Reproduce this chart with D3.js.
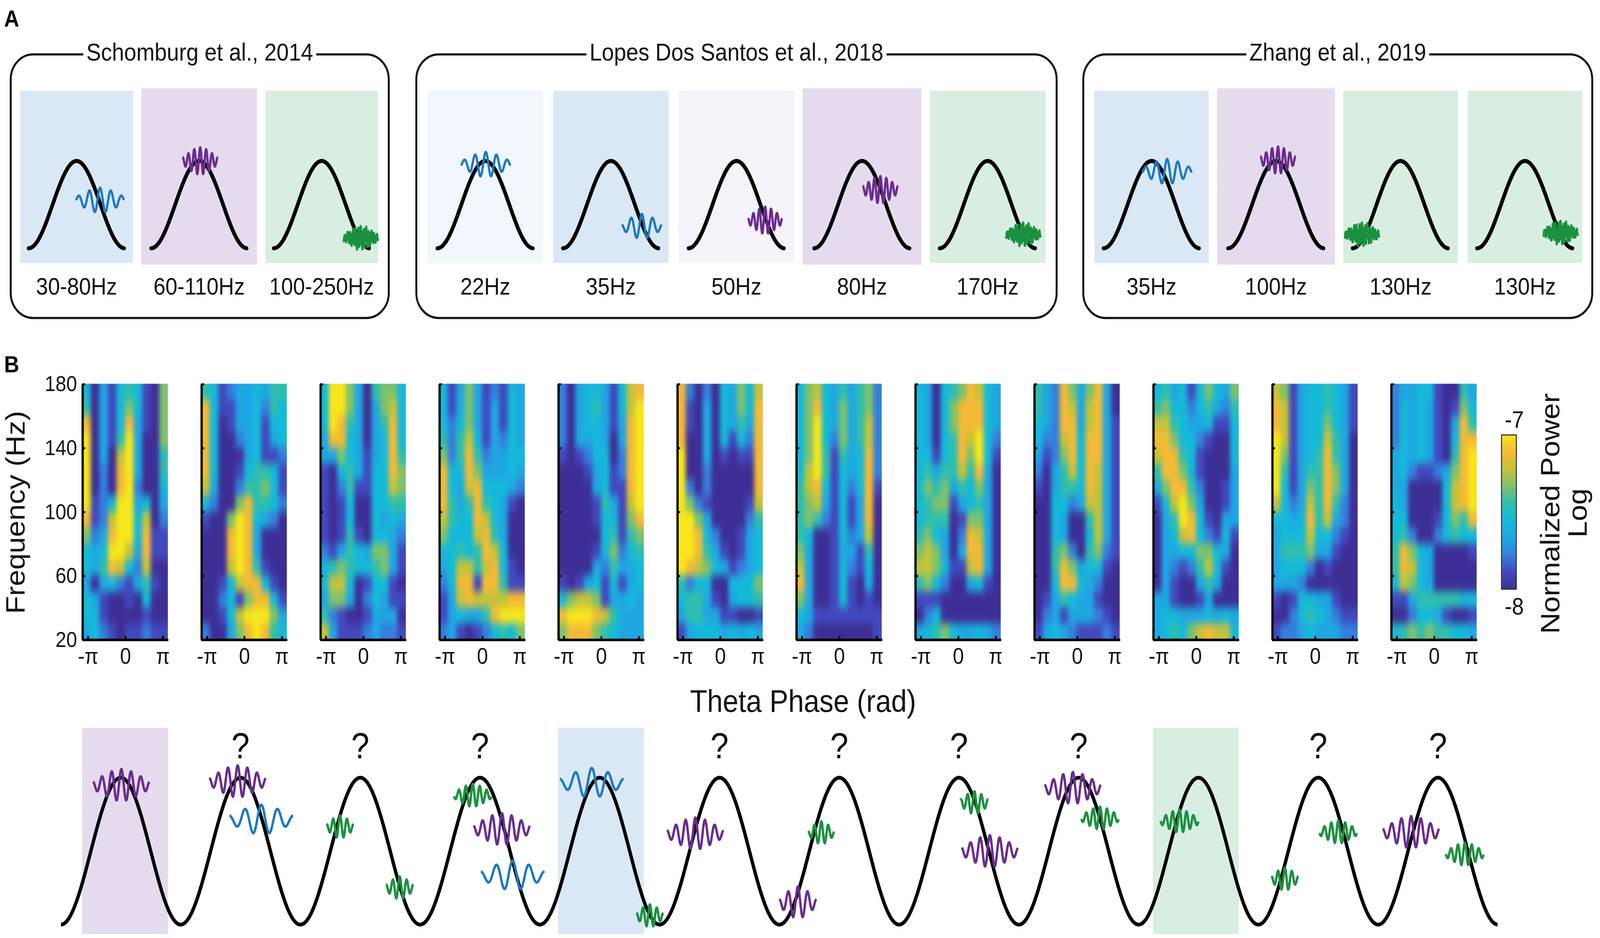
<!DOCTYPE html>
<html>
<head>
<meta charset="utf-8">
<script src="https://cdn.jsdelivr.net/npm/d3@7"></script>
<style>
  html, body { margin: 0; padding: 0; background: #fff; overflow: hidden; }
  svg { display: block; width: 100vw; height: 100vh; }
</style>
</head>
<body>
<div id="app"></div>
<script>
// ------------------------------------------------------------
// Data
// ------------------------------------------------------------

// Panel A: studies, their gamma bands and preferred theta phase
const studyTitles = ['Schomburg et al., 2014', 'Lopes Dos Santos et al., 2018', 'Zhang et al., 2019'];
const studyBandLabels = [
  ['30-80Hz', '60-110Hz', '100-250Hz'],
  ['22Hz', '35Hz', '50Hz', '80Hz', '170Hz'],
  ['35Hz', '100Hz', '130Hz', '130Hz']
];
const studyBandTints = [
  ['blue', 'purple', 'green'],
  ['paleBlue', 'blue', 'palePurple', 'purple', 'green'],
  ['blue', 'purple', 'green', 'green']
];
// [burst type, theta phase (rad, 0 = peak), height on the cycle (0 trough .. 1 peak), gamma cycles]
const studyBursts = [
  [['blue', 1.54, 0.55, 4.5], ['purple', 0.07, 1.0, 6], ['green', 2.57, 0.12, 13]],
  [['blue', 0.03, 0.96, 4.6], ['blue', 2.03, 0.25, 3.7], ['purple', 1.88, 0.32, 5.7], ['purple', 1.2, 0.67, 6], ['green', 2.34, 0.16, 13]],
  [['blue', 1.02, 0.88, 4.6], ['purple', 0.13, 1.01, 6], ['green', -2.52, 0.16, 13], ['green', 2.34, 0.18, 13]]
];

// Panel B: phase-frequency power maps, rows 180 Hz -> 20 Hz, columns -pi -> pi, levels 0 (-8) .. 9 (-7)
const powerMaps = [
  ['4031454106','5031464106','8031483106','9031593006','9030793005','9020893005','9020892004','9124993403',
   '8127994702','6238994811','4349973811','4358742700','3034213510','4310010400','4410000100','3421011211'],
  ['5412334355','8411334254','8401334144','8400234134','8400034112','8400145541','7300255641','4200685542',
   '1006984320','0008983000','0008983000','0007985100','0014788410','0024168841','0014799963','2003689854'],
  ['4996305664','4996303674','4985303584','3884303484','3364313485','1045314486','1025114476','1014004455',
   '1014004343','1015104432','2135436631','4565445631','4774014410','3663024311','5210013330','7311123221'],
  ['4136312143','4136313143','4246313143','5257413243','6258523344','8448633343','8437844432','8535854310',
   '7544874300','6444785300','4454587400','3477578410','2488188511','1378777788','1343358999','2310124546'],
  ['2034431478','2034531479','2034431389','2033430389','1012440289','0001341289','0000341189','0000153179',
   '0000144168','0000045156','0000146245','0000325334','1013414134','4677613343','8999875333','6888654333'],
  ['8202043647','8103043648','8103043538','8003041428','9003010118','9002000008','9202000008','9621000017',
   '9963000025','9984200134','9985310134','9876431234','5244004446','4553103445','3553311001','1344434343'],
  ['4674353562','4684363562','4694363572','4694263572','4695153482','4795143482','5784142481','5673141380',
   '5652141380','5400142370','6300133150','7300142140','8300141030','6300141010','4311111111','3200000001'],
  ['4304568743','4304688843','4304688843','4304587942','4414586941','4535575830','4656354630','4566134530',
   '4555016630','5643028730','6763038830','7764117830','5642003410','1110000000','0240000000','3456433432'],
  ['5328636830','5328737830','4328837831','4227848831','3126848831','2035748731','1035548731','0044237731',
   '0043005731','0043004731','0056205621','0058634410','0048843200','0135433100','0231333210','1343211121'],
  ['4534146436','5644245325','7754334114','8864421004','7885410004','5886410003','3688520013','1479630013',
   '0359841033','0347842141','0334466430','0321257410','0310035300','3310013000','3443334343','3454678774'],
  ['7613445431','8713445431','8713446431','9713447530','9613458530','9513558630','9413658630','7423758520',
   '4434857320','3444744210','3555633100','3444201000','3332000000','1014433100','0024543211','1223433322'],
  ['2334410053','2434310164','2434310385','2434310488','3434310589','3421123689','3300004789','4300004789',
   '4400014658','4520024544','5864300001','5874300000','4764300000','1135555544','0024431001','4565655443']
];
const freqTicks = [20, 60, 100, 140, 180];
const phaseTicks = [-Math.PI, 0, Math.PI];
const phaseTickLabels = ['-π', '0', 'π'];
const powerRange = [-8, -7];

// Bottom schematic: [theta cycle, burst type, phase from peak (rad), height (-1 trough .. 1 peak), gamma cycles]
const thetaBursts = [
  [0, 'purple', 0.03, 0.90, 5.8],
  [1, 'purple', -0.15, 0.95, 5.8],
  [1, 'blue', 1.09, 0.43, 3.9],
  [2, 'green', -1.06, 0.33, 3.9],
  [2, 'green', 2.07, -0.50, 4.0],
  [3, 'green', -0.38, 0.76, 5.4],
  [3, 'purple', 1.15, 0.30, 5.8],
  [3, 'blue', 1.71, -0.33, 3.9],
  [4, 'blue', -0.42, 0.93, 3.9],
  [4, 'green', 2.63, -0.88, 3.9],
  [5, 'purple', -1.27, 0.24, 5.8],
  [6, 'purple', -2.17, -0.70, 3.8],
  [6, 'green', -0.94, 0.25, 3.7],
  [7, 'green', 0.81, 0.66, 4.1],
  [7, 'purple', 1.62, 0.00, 5.8],
  [8, 'purple', -0.31, 0.86, 5.8],
  [8, 'green', 1.12, 0.45, 5.4],
  [9, 'green', -0.99, 0.41, 5.5],
  [10, 'green', -1.75, -0.38, 3.9],
  [10, 'green', 1.05, 0.26, 5.4],
  [11, 'purple', -1.41, 0.26, 5.8],
  [11, 'green', 1.41, -0.04, 5.5]
];
const highlightedCycles = [[0, 'purple'], [4, 'blue'], [9, 'green']];
const questionCycles = [1, 2, 3, 5, 6, 7, 8, 10, 11];
const thetaCycleCount = 12;

// ------------------------------------------------------------
// Styles
// ------------------------------------------------------------
const FONT = '"Liberation Sans", Arial, Helvetica, sans-serif';
const tint = { blue: '#d9e8f4', purple: '#e6dbee', green: '#d8eee0', paleBlue: '#f0f6fb', palePurple: '#f5f2f9' };
const burstColor = { blue: '#1f78c1', purple: '#6a2c8e', green: '#1b9140' };
// gamma period (px) and amplitude for the small (A) and large (B) glyphs
const burstA = { blue: [10.5, 11, false], purple: [5.8, 12, false], green: [2.6, 11, true] };
const burstB = { blue: [16, 13, false], purple: [9.5, 14, false], green: [6.8, 10, false] };
const parula = ['#3e2f96', '#4149bd', '#357fdc', '#1fa7e2', '#15b9d8', '#2fbeae', '#7dc26c', '#c4c33a', '#f4ba35', '#f7e61b'];
const powerColor = d3.scaleLinear().domain(d3.range(parula.length)).range(parula);

// ------------------------------------------------------------
// Canvas: drawn in 1568 x 827 units, stretched over the whole window
// ------------------------------------------------------------
const W = 1568, H = 2401 * 1568 / 4550;
const svg = d3.select('#app').append('svg')
  .attr('viewBox', [0, 0, W, H])
  .attr('preserveAspectRatio', 'none')
  .attr('font-family', FONT);

const defs = svg.append('defs');
defs.append('filter').attr('id', 'hmblur')
  .attr('x', '-10%').attr('y', '-10%').attr('width', '120%').attr('height', '120%')
  .attr('color-interpolation-filters', 'sRGB')
  .append('feGaussianBlur').attr('stdDeviation', '2.1 3.6');

function burstPath(cx, cy, nCycles, style) {
  const [period, amp, noisy] = style;
  const w = nCycles * period, sigma = w / 3.2;
  const pts = d3.range(-w / 2, w / 2 + 0.001, Math.min(0.3, period / 14)).map(t => {
    const env = Math.exp(-0.5 * (t / sigma) ** 2);
    let v = Math.cos(2 * Math.PI * t / period);
    if (noisy) v = 0.6 * v + 0.4 * Math.cos(2 * Math.PI * t / (period * 0.41) + 0.9);
    return [cx + t, cy - amp * env * v];
  });
  return d3.line()(pts);
}

// ------------------------------------------------------------
// Panel A
// ------------------------------------------------------------
svg.append('text').attr('x', 4).attr('y', 23.4).attr('font-size', 20.5).attr('font-weight', 'bold').text('A');

const boxX = [[10.5, 381], [408, 1035.5], [1061.6, 1560.4]];
const panelX = [[19.8, 370.5], [419, 1024.5], [1072.4, 1550.6]];
const boxTop = 48, boxBottom = 280.5;
const bellY = d3.scaleLinear().domain([0, 1]).range([219, 142]);

studyTitles.forEach((title, b) => {
  const g = svg.append('g');
  g.append('rect')
    .attr('x', boxX[b][0]).attr('y', boxTop)
    .attr('width', boxX[b][1] - boxX[b][0]).attr('height', boxBottom - boxTop)
    .attr('rx', 22).attr('ry', 22)
    .attr('fill', 'none').attr('stroke', '#111').attr('stroke-width', 1.9);

  const cx = (boxX[b][0] + boxX[b][1]) / 2;
  const gap = g.append('rect').attr('fill', '#fff');
  const t = g.append('text').attr('x', cx).attr('y', 53.5).attr('text-anchor', 'middle')
    .attr('font-size', 21.5).attr('fill', '#111').text(title);
  const bb = t.node().getBBox();
  gap.attr('x', bb.x - 3).attr('y', boxTop - 3).attr('width', bb.width + 6).attr('height', 6);

  const labels = studyBandLabels[b];
  const n = labels.length;
  const band = d3.scaleBand().domain(d3.range(n)).range(panelX[b]).paddingInner(0.08);

  labels.forEach((lab, i) => {
    const tn = studyBandTints[b][i];
    const wide = tn === 'purple' ? 1.5 : 0;
    g.append('rect')
      .attr('x', band(i) - wide).attr('y', tn === 'purple' ? 78 : 80)
      .attr('width', band.bandwidth() + 2 * wide).attr('height', tn === 'purple' ? 155.5 : 152)
      .attr('fill', tint[tn]);

    const mid = band(i) + band.bandwidth() / 2;
    const bellX = d3.scaleLinear().domain([-Math.PI, Math.PI]).range([mid - 47, mid + 47]);
    const bell = d3.range(-Math.PI, Math.PI + 0.001, 0.05).map(p => [bellX(p), bellY((1 + Math.cos(p)) / 2)]);
    g.append('path').attr('d', d3.line()(bell))
      .attr('fill', 'none').attr('stroke', '#000').attr('stroke-width', 3.6).attr('stroke-linecap', 'round');

    g.append('text').attr('x', mid).attr('y', 260).attr('text-anchor', 'middle')
      .attr('font-size', 21).attr('fill', '#111').text(lab);

    const [type, phase, level, cyc] = studyBursts[b][i];
    g.append('path').attr('d', burstPath(bellX(phase), bellY(level), cyc, burstA[type]))
      .attr('fill', 'none').attr('stroke', burstColor[type]).attr('stroke-width', 2.2)
      .attr('stroke-linejoin', 'round');
  });
});

// ------------------------------------------------------------
// Panel B: heat maps
// ------------------------------------------------------------
svg.append('text').attr('x', 4).attr('y', 328.5).attr('font-size', 20.5).attr('font-weight', 'bold').text('B');

const hmTop = 338.5, hmBottom = 564;
const panelBand = d3.scaleBand().domain(d3.range(powerMaps.length)).range([80.5, 1447.1]).paddingInner(0.2796);
const freqY = d3.scaleLinear().domain([20, 180]).range([hmBottom, hmTop]);
const rowBand = d3.scaleBand().domain(d3.range(powerMaps[0].length)).range([hmTop, hmBottom]);

powerMaps.forEach((rows, p) => {
  const left = panelBand(p), pw = panelBand.bandwidth();
  const colBand = d3.scaleBand().domain(d3.range(rows[0].length)).range([left, left + pw]);
  const phaseX = d3.scaleLinear().domain([-3.6, 3.6]).range([left, left + pw]);

  defs.append('clipPath').attr('id', 'hmclip' + p)
    .append('rect').attr('x', left).attr('y', hmTop).attr('width', pw).attr('height', hmBottom - hmTop);

  const cells = [];
  rows.forEach((row, r) => row.split('').forEach((v, c) => cells.push({ r, c, v: +v })));
  const ext = 9, nr = rows.length, nc = rows[0].length;

  svg.append('g').attr('clip-path', `url(#hmclip${p})`)
    .append('g').attr('filter', 'url(#hmblur)')
    .selectAll('rect').data(cells).join('rect')
    .attr('x', d => colBand(d.c) - (d.c === 0 ? ext : 0))
    .attr('y', d => rowBand(d.r) - (d.r === 0 ? ext : 0))
    .attr('width', d => colBand.bandwidth() + 0.6 + (d.c === 0 || d.c === nc - 1 ? ext : 0))
    .attr('height', d => rowBand.bandwidth() + 0.6 + (d.r === 0 || d.r === nr - 1 ? ext : 0))
    .attr('fill', d => powerColor(d.v));

  const yAxis = d3.axisLeft(freqY).tickValues(freqTicks).tickSize(-3).tickSizeOuter(0).tickPadding(5)
    .tickFormat(p === 0 ? d3.format('d') : () => '');
  const xAxis = d3.axisBottom(phaseX).tickValues(phaseTicks).tickSize(-3).tickSizeOuter(0).tickPadding(7.5)
    .tickFormat((d, i) => phaseTickLabels[i]);

  [svg.append('g').attr('transform', `translate(${left},0)`).call(yAxis),
   svg.append('g').attr('transform', `translate(0,${hmBottom})`).call(xAxis)].forEach((ax, k) => {
    ax.attr('font-family', null).attr('font-size', null);
    ax.select('.domain').attr('stroke', '#000').attr('stroke-width', 2.2);
    ax.selectAll('.tick line').attr('stroke', '#000').attr('stroke-width', 1.7);
    ax.selectAll('.tick text').attr('fill', '#111').attr('font-size', k === 0 ? 19 : 19.5);
  });
});

svg.append('text').attr('transform', `translate(24,452) rotate(-90)`).attr('text-anchor', 'middle')
  .attr('font-size', 26).attr('fill', '#111').text('Frequency (Hz)');
svg.append('text').attr('x', 787).attr('y', 628).attr('text-anchor', 'middle')
  .attr('font-size', 27.5).attr('fill', '#111').text('Theta Phase (rad)');

// colour bar
const cbY = d3.scaleLinear().domain(powerRange).range([519.7, 383.7]);
const grad = defs.append('linearGradient').attr('id', 'cbar').attr('x1', 0).attr('y1', 1).attr('x2', 0).attr('y2', 0);
parula.forEach((c, i) => grad.append('stop').attr('offset', i / (parula.length - 1)).attr('stop-color', c));
svg.append('rect').attr('x', 1471.5).attr('y', cbY(powerRange[1]))
  .attr('width', 14.5).attr('height', cbY(powerRange[0]) - cbY(powerRange[1]))
  .attr('fill', 'url(#cbar)').attr('stroke', '#333').attr('stroke-width', 1);
svg.append('text').attr('x', 1484).attr('y', cbY(powerRange[1]) - 6.5).attr('text-anchor', 'middle')
  .attr('font-size', 21).attr('fill', '#111').text(powerRange[1]);
svg.append('text').attr('x', 1484).attr('y', cbY(powerRange[0]) + 22.5).attr('text-anchor', 'middle')
  .attr('font-size', 21).attr('fill', '#111').text(powerRange[0]);
svg.append('text').attr('transform', `translate(1528,453) rotate(-90)`).attr('text-anchor', 'middle')
  .attr('font-size', 26).attr('fill', '#111').text('Normalized Power');
svg.append('text').attr('transform', `translate(1555,452.5) rotate(-90)`).attr('text-anchor', 'middle')
  .attr('font-size', 26).attr('fill', '#111').text('Log');

// ------------------------------------------------------------
// Bottom schematic: theta cycles with gamma bursts
// ------------------------------------------------------------
const thetaX = d3.scaleLinear().domain([-Math.PI, (2 * thetaCycleCount - 1) * Math.PI]).range([59.7, 1467.9]);
const thetaY = d3.scaleLinear().domain([-1, 1]).range([815.6, 686]);

svg.append('g').selectAll('rect').data(highlightedCycles).join('rect')
  .attr('x', d => panelBand(d[0])).attr('y', 642)
  .attr('width', panelBand.bandwidth()).attr('height', 182)
  .attr('fill', d => tint[d[1]]);

const wave = d3.range(-Math.PI, (2 * thetaCycleCount - 1) * Math.PI + 0.001, 0.02)
  .map(ph => [thetaX(ph), thetaY(Math.cos(ph))]);
svg.append('path').attr('d', d3.line()(wave))
  .attr('fill', 'none').attr('stroke', '#000').attr('stroke-width', 3.3);

svg.append('g').selectAll('text').data(questionCycles).join('text')
  .attr('x', k => thetaX(2 * Math.PI * k)).attr('y', 669)
  .attr('text-anchor', 'middle').attr('font-size', 32).attr('fill', '#111').text('?');

svg.append('g').selectAll('path').data(thetaBursts).join('path')
  .attr('d', d => burstPath(thetaX(2 * Math.PI * d[0] + d[2]), thetaY(d[3]), d[4], burstB[d[1]]))
  .attr('fill', 'none').attr('stroke', d => burstColor[d[1]]).attr('stroke-width', 2.3)
  .attr('stroke-linejoin', 'round');
</script>
</body>
</html>
